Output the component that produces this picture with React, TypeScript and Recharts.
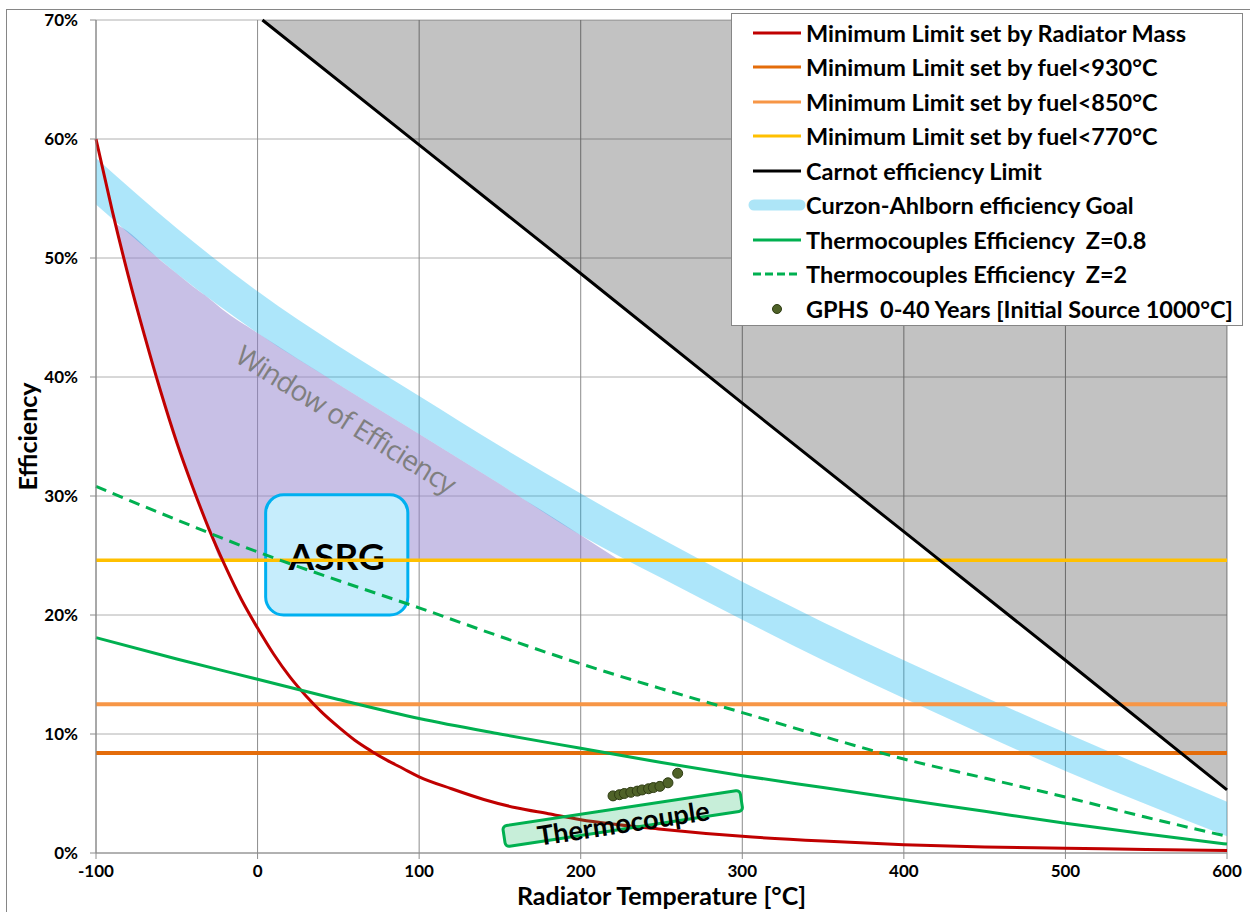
import React from 'react';
import {
  ComposedChart, Line, Area, Scatter, XAxis, YAxis, CartesianGrid, Legend,
  ReferenceArea, ReferenceDot, Label,
} from 'recharts';

const FONT = "Lato, 'Open Sans', sans-serif";

// axis ticks
const xTicks = [-100, 0, 100, 200, 300, 400, 500, 600];
const yTicks = [0, 10, 20, 30, 40, 50, 60, 70];

// minimum efficiency set by radiator mass (%)
const radiatorT = [-100, -90, -80, -70, -60, -50, -40, -30, -20, -10, 0, 10, 20, 30, 40, 50, 60, 70, 80, 90, 100,
  120, 140, 160, 180, 200, 250, 300, 350, 400, 450, 500, 550, 600];
const radiatorEff = [60, 54, 48.5, 43.5, 38.8, 34.5, 30.7, 27.2, 24.1, 21.3, 18.9, 16.7, 14.8, 13.2, 11.8, 10.6, 9.5, 8.6, 7.8, 7.1, 6.4,
  5.4, 4.5, 3.8, 3.3, 2.8, 2.0, 1.4, 1.0, 0.7, 0.5, 0.4, 0.3, 0.2];

// fuel temperature limits (%)
const fuel930 = 8.4;
const fuel850 = 12.5;
const fuel770 = 24.6;

// Carnot limit (%)
const carnotT = [3, 100, 200, 300, 400, 500, 600];
const carnotEff = [70, 59.5, 48.7, 37.8, 27.0, 16.2, 5.3];

// Curzon-Ahlborn goal band and thermocouple curves share one temperature grid
const curveT = [-100, -50, 0, 50, 100, 150, 200, 250, 300, 350, 400, 450, 500, 550, 600];
const caHigh = [58.4, 52.5, 47.2, 42.6, 38.4, 34.2, 30.2, 26.4, 22.8, 19.4, 16.2, 13.1, 10.1, 7.2, 4.3];
const caLow = [54.5, 48.7, 43.7, 39.4, 35.2, 31.0, 26.7, 23.1, 19.6, 16.2, 13.0, 9.9, 6.9, 4.1, 1.4];
const tcZ08 = [18.1, 16.3, 14.6, 12.9, 11.3, 10.0, 8.8, 7.6, 6.5, 5.5, 4.5, 3.5, 2.5, 1.6, 0.75];
const tcZ2 = [30.8, 28.0, 25.3, 22.9, 20.6, 18.2, 15.9, 13.8, 11.8, 9.8, 7.9, 6.3, 4.7, 3.0, 1.4];

// window of efficiency: between the limits and the goal band
const windowT = [-88, -80, -70, -60, -50, -40, -30, -22, 0, 50, 100, 150, 200, 224];
const windowLow = [52.9, 48.5, 43.5, 38.8, 34.5, 30.7, 27.2, 24.6, 24.6, 24.6, 24.6, 24.6, 24.6, 24.6];
const windowHigh = [52.9, 52.2, 51.0, 49.8, 48.7, 47.6, 46.6, 45.7, 43.7, 39.4, 35.2, 31.0, 26.7, 24.6];

// GPHS source, 0-40 years
const gphsT = [220, 224, 227, 231, 235, 238, 242, 245, 249, 254, 260];
const gphsEff = [4.8, 4.9, 5.0, 5.1, 5.2, 5.3, 5.4, 5.5, 5.6, 5.9, 6.7];

const legendItems = [
  { label: 'Minimum Limit set by Radiator Mass', kind: 'line', color: '#C00000' },
  { label: 'Minimum Limit set by fuel<930°C', kind: 'line', color: '#E46C0A' },
  { label: 'Minimum Limit set by fuel<850°C', kind: 'line', color: '#F79646' },
  { label: 'Minimum Limit set by fuel<770°C', kind: 'line', color: '#FFC000' },
  { label: 'Carnot efficiency Limit', kind: 'line', color: '#000000' },
  { label: 'Curzon-Ahlborn efficiency Goal', kind: 'band', color: '#ADE5F7' },
  { label: 'Thermocouples Efficiency  Z=0.8', kind: 'line', color: '#00B050' },
  { label: 'Thermocouples Efficiency  Z=2', kind: 'dash', color: '#00B050' },
  { label: 'GPHS  0-40 Years [Initial Source 1000°C]', kind: 'dot', color: '#4F6228' },
];

const rows = (ts: number[], vs: number[]) => ts.map((t, i) => ({ t, v: vs[i] }));
const rangeRows = (ts: number[], lo: number[], hi: number[]) => ts.map((t, i) => ({ t, lo: lo[i], hi: hi[i] }));
const flat = (v: number) => [{ t: -100, v }, { t: 600, v }];

const radiatorData = rows(radiatorT, radiatorEff);
const carnotData = rows(carnotT, carnotEff);
const carnotShade = carnotT.map((t, i) => ({ t, lo: carnotEff[i], hi: 70 }));
const caData = rangeRows(curveT, caLow, caHigh);
const windowData = rangeRows(windowT, windowLow, windowHigh);
const z08Data = rows(curveT, tcZ08);
const z2Data = rows(curveT, tcZ2);
const gphsData = rows(gphsT, gphsEff);

const tickStyle = { fontSize: 17, fontWeight: 700, fill: '#000', fontFamily: FONT };

function LegendBox() {
  return (
    <div style={{
      position: 'absolute', left: 0, top: 0, width: 510, height: 311,
      background: '#fff', border: '1px solid #868686', fontFamily: FONT,
    }}>
      {legendItems.map((it, i) => (
        <div key={it.label} style={{
          position: 'absolute', left: 0, top: 18.7 + i * 34.5 - 15, height: 30,
          display: 'flex', alignItems: 'center', whiteSpace: 'pre',
        }}>
          <svg width={74} height={30} style={{ flex: 'none' }}>
            {it.kind === 'line' && <line x1={21} x2={69} y1={15} y2={15} stroke={it.color} strokeWidth={3} />}
            {it.kind === 'dash' && <line x1={21} x2={69} y1={15} y2={15} stroke={it.color} strokeWidth={3} strokeDasharray="8 4" />}
            {it.kind === 'band' && <line x1={22} x2={68} y1={15} y2={15} stroke={it.color} strokeWidth={11} strokeLinecap="round" />}
            {it.kind === 'dot' && <circle cx={45} cy={15} r={4.5} fill={it.color} stroke="#2E3B12" strokeWidth={1} />}
          </svg>
          <span style={{ fontSize: 23.5, fontWeight: 700, color: '#000' }}>{it.label}</span>
        </div>
      ))}
    </div>
  );
}

export default function App() {
  return (
    <div style={{ position: 'absolute', left: 0, top: 0, width: 1250, height: 912, background: '#fff', fontFamily: FONT, overflow: 'hidden' }}>
      <div style={{ position: 'absolute', left: 6, top: 9, width: 1300, height: 1000, borderLeft: '1px solid #868686', borderTop: '1px solid #868686' }} />
      <ComposedChart width={1250} height={912} margin={{ top: 20, right: 23, bottom: 0, left: 0 }}>
        <CartesianGrid vertical={false} stroke="#B0B0B0" />
        <CartesianGrid horizontal={false} stroke="#8C8C8C" />
        <XAxis
          type="number" dataKey="t" domain={[-100, 600]} ticks={xTicks} interval={0} height={59}
          tickSize={6} tickMargin={6} tick={tickStyle}
          axisLine={{ stroke: '#8C8C8C' }} tickLine={{ stroke: '#8C8C8C' }}
        >
          <Label
            content={({ viewBox }: any) => (
              <text x={viewBox.x + viewBox.width / 2} y={viewBox.y + 42} textAnchor="middle" dominantBaseline="central"
                fontSize={25} fontWeight={700} fill="#000" fontFamily={FONT}>
                Radiator Temperature [°C]
              </text>
            )}
          />
        </XAxis>
        <YAxis
          type="number" domain={[0, 70]} ticks={yTicks} interval={0} width={96}
          tickSize={6} tickMargin={12} tick={tickStyle} tickFormatter={(v: number) => `${v}%`}
          axisLine={{ stroke: '#8C8C8C' }} tickLine={{ stroke: '#8C8C8C' }}
        >
          <Label
            content={({ viewBox }: any) => {
              const cx = viewBox.x + 27;
              const cy = viewBox.y + viewBox.height / 2;
              return (
                <text x={cx} y={cy} transform={`rotate(-90 ${cx} ${cy})`} textAnchor="middle" dominantBaseline="central"
                  fontSize={25} fontWeight={700} fill="#000" fontFamily={FONT}>
                  Efficiency
                </text>
              );
            }}
          />
        </YAxis>

        <Area data={carnotShade} dataKey={(d: any) => [d.lo, d.hi]} type="linear" stroke="none" fill="#000" fillOpacity={0.24} isAnimationActive={false} />
        <Area data={windowData} dataKey={(d: any) => [d.lo, d.hi]} type="monotone" stroke="none" fill="#9181CD" fillOpacity={0.5} isAnimationActive={false} />

        <ReferenceArea
          x1={5} x2={93} y1={20} y2={30.1} zIndex={350}
          shape={(p: any) => (
            <g>
              <rect x={p.x} y={p.y} width={p.width} height={p.height} rx={18} ry={18}
                fill="#C6EDFC" stroke="#00B0F0" strokeWidth={3} />
              <text x={p.x + p.width / 2} y={p.y + p.height / 2 + 1} textAnchor="middle" dominantBaseline="central"
                fontSize={37} fontWeight={700} fill="#000" fontFamily={FONT}>ASRG</text>
            </g>
          )}
        />

        <Line data={flat(fuel930)} dataKey="v" stroke="#E46C0A" strokeWidth={4} dot={false} isAnimationActive={false} />
        <Line data={flat(fuel850)} dataKey="v" stroke="#F79646" strokeWidth={4} dot={false} isAnimationActive={false} />
        <Line data={flat(fuel770)} dataKey="v" stroke="#FFC000" strokeWidth={3.5} dot={false} isAnimationActive={false} />

        <Area data={caData} dataKey={(d: any) => [d.lo, d.hi]} type="monotone" stroke="none" fill="#00B0F0" fillOpacity={0.32} isAnimationActive={false} />

        <Line data={radiatorData} dataKey="v" type="monotone" stroke="#C00000" strokeWidth={3} dot={false} isAnimationActive={false} />
        <Line data={z08Data} dataKey="v" type="monotone" stroke="#00B050" strokeWidth={3} dot={false} isAnimationActive={false} />
        <Line data={z2Data} dataKey="v" type="monotone" stroke="#00B050" strokeWidth={3} strokeDasharray="11 7" dot={false} isAnimationActive={false} />
        <Line data={carnotData} dataKey="v" type="linear" stroke="#000" strokeWidth={3} dot={false} isAnimationActive={false} />

        <Scatter
          data={gphsData} dataKey="v" isAnimationActive={false}
          shape={(p: any) => <circle cx={p.cx} cy={p.cy} r={5} fill="#4F6228" stroke="#2E3B12" strokeWidth={1} />}
        />

        <ReferenceDot
          x={55} y={36.5}
          shape={(p: any) => (
            <text x={p.cx} y={p.cy} transform={`rotate(32 ${p.cx} ${p.cy})`} textAnchor="middle" dominantBaseline="central"
              fontSize={28} fill="#7F7F7F" fontFamily="'Open Sans', Lato, sans-serif" letterSpacing={-0.8}>Window of Efficiency</text>
          )}
        />
        <ReferenceDot
          x={226} y={2.9}
          shape={(p: any) => (
            <g transform={`rotate(-8.6 ${p.cx} ${p.cy})`}>
              <rect x={p.cx - 120} y={p.cy - 10.5} width={240} height={21} rx={4} ry={4}
                fill="#00B050" fillOpacity={0.22} stroke="#00B050" strokeWidth={3} />
              <text x={p.cx} y={p.cy + 4} textAnchor="middle" dominantBaseline="central"
                fontSize={27} fontWeight={700} fill="#000" fontFamily={FONT}>Thermocouple</text>
            </g>
          )}
        />

        <Legend
          layout="horizontal" align="center" verticalAlign="middle"
          wrapperStyle={{ left: 731, top: 13, width: 512, height: 313 }}
          content={() => <LegendBox />}
        />
      </ComposedChart>
    </div>
  );
}
